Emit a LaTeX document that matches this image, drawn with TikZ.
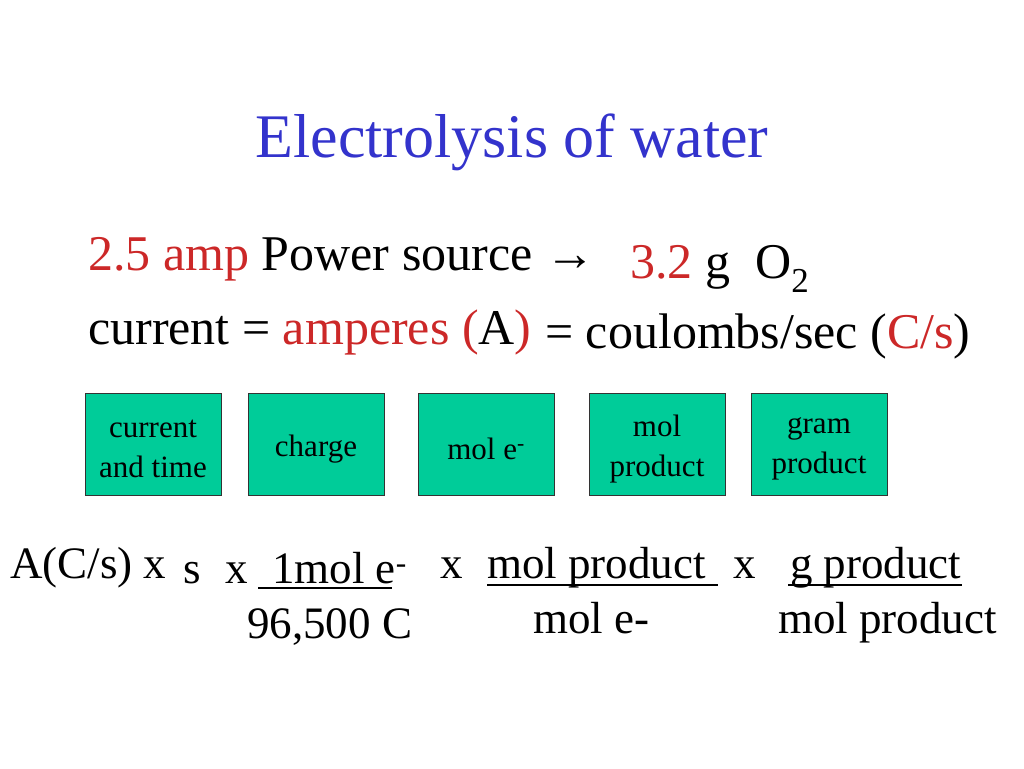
\documentclass[tikz,border=0pt]{standalone}
\usepackage{fontspec}
\setmainfont{Liberation Serif}
\definecolor{tblue}{RGB}{51,51,204}
\definecolor{tred}{RGB}{204,40,40}
\definecolor{bgreen}{RGB}{0,204,153}
\begin{document}
\begin{tikzpicture}[x=1pt,y=-1pt,
  gbox/.style={draw=black!80,line width=0.8pt,fill=bgreen,minimum width=136pt,minimum height=102pt,inner sep=0pt},
  gtext/.style={align=center,font=\fontsize{31}{40}\selectfont,inner sep=0pt},
  t40/.style={anchor=base west,inner sep=0pt,font=\fontsize{50}{56}\selectfont},
  t36/.style={anchor=base west,inner sep=0pt,font=\fontsize{45}{50}\selectfont}]
\useasboundingbox (0,0) rectangle (1024,768);
\node[anchor=base,inner sep=0pt,text=tblue,font=\fontsize{62}{66}\selectfont] (title) at (512,157) {Electrolysis of water};
\node[t40] (l1) at (88,270) {\textcolor{tred}{2.5 amp} Power source →};
\node[t40] (l1b) at (630,278) {\textcolor{tred}{3.2} g\ \ O\textsubscript{2}};
\node[t40] (l2) at (88,344) {current = \textcolor{tred}{amperes (}A\textcolor{tred}{)}};
\node[t40] (l2b) at (545,348) {= coulombs/sec (\textcolor{tred}{C/s})};
\node[gbox] (b1) at (153,444) {};
\node[gbox] (b2) at (316,444) {};
\node[gbox] (b3) at (486,444) {};
\node[gbox] (b4) at (657,444) {};
\node[gbox] (b5) at (819,444) {};
\node[gtext] (t1) at ([yshift=-5pt]b1.center) {current\\ and time};
\node[gtext] (t2) at ([yshift=-5pt]b2.center) {charge};
\node[gtext] (t3) at ([yshift=-5pt]b3.center) {mol e\textsuperscript{-}};
\node[gtext] (t4) at ([yshift=-5pt]b4.center) {mol\\product};
\node[gtext] (t5) at ([yshift=-5pt]b5.center) {gram\\product};
\node[t36] (e1) at (10,578) {A(C/s) x};
\node[t36] (e2a) at (183,583) {s};
\node[t36] (e2b) at (225,583) {x};
\node[t36] (e2c) at (272,583) {1mol e\textsuperscript{-}};
\node[t36] (e3) at (247,638) {96,500 C};
\node[t36] (e4a) at (440,578) {x};
\node[t36] (e4b) at (487,578) {mol product};
\node[t36] (e4c) at (733,578) {x};
\node[t36] (e4d) at (790,578) {g product};
\node[t36] (e5) at (533,633) {mol e-};
\node[t36] (e6) at (778,633) {mol product};
\draw[line width=1.8pt] (258,588) -- (392,588);
\draw[line width=1.8pt] (487,585) -- (718,585);
\draw[line width=1.8pt] (788,585) -- (962,585);
\end{tikzpicture}
\end{document}
